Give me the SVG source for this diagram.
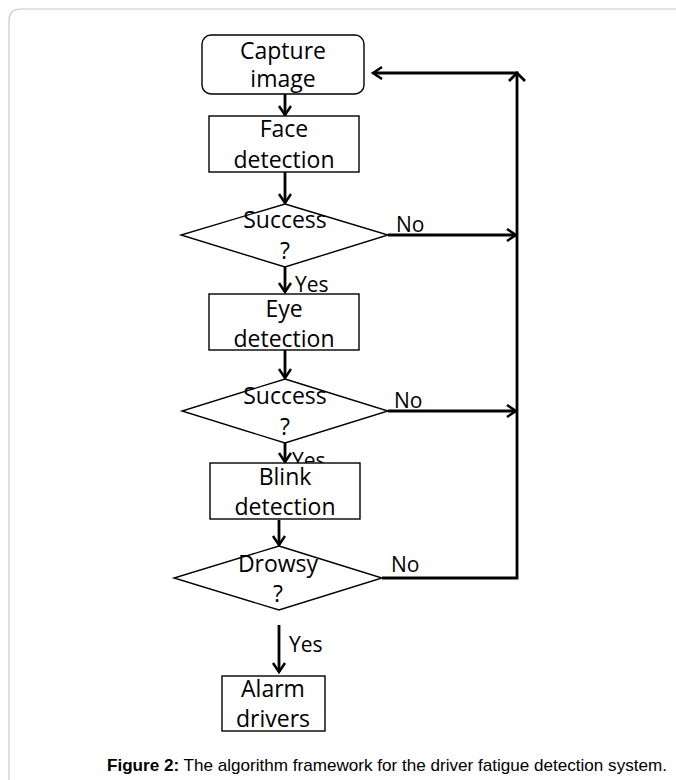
<svg xmlns="http://www.w3.org/2000/svg" width="676" height="780" viewBox="0 0 676 780">
<defs>
<style>
.box{fill:#fff;stroke:#000;stroke-width:1.4}
.t{font-family:"Open Sans","Noto Sans",sans-serif;font-size:23px;fill:#000;text-anchor:middle}
.l{font-family:"Open Sans","Noto Sans",sans-serif;font-size:21px;fill:#000}
.c{stroke:#000;stroke-width:2.8;fill:none}
.cap{font-family:"Liberation Sans",Arial,sans-serif;font-size:17px;fill:#000}
</style>
<marker id="ah" markerUnits="userSpaceOnUse" markerWidth="14" markerHeight="16" refX="10" refY="7" orient="auto">
<path d="M1,1 L10,7 L1,13" fill="none" stroke="#000" stroke-width="2.5"/>
</marker>
</defs>
<rect width="676" height="780" fill="#fff"/>
<path d="M9,800 L9,21 Q9,9 21,9 L700,9" fill="none" stroke="#c8c8c8" stroke-width="1.2"/>

<g id="connectors">
<line class="c" x1="285" y1="94" x2="285" y2="115" marker-end="url(#ah)"/>
<line class="c" x1="285" y1="172" x2="285" y2="203" marker-end="url(#ah)"/>
<line class="c" x1="285" y1="267" x2="285" y2="292" marker-end="url(#ah)"/>
<line class="c" x1="285" y1="350" x2="285" y2="378" marker-end="url(#ah)"/>
<line class="c" x1="285" y1="443" x2="285" y2="462" marker-end="url(#ah)"/>
<line class="c" x1="279" y1="520" x2="279" y2="545" marker-end="url(#ah)"/>
<line class="c" x1="279" y1="625" x2="279" y2="672" marker-end="url(#ah)"/>
<line class="c" x1="388" y1="235" x2="516" y2="235" marker-end="url(#ah)"/>
<line class="c" x1="388" y1="411" x2="516" y2="411" marker-end="url(#ah)"/>
<polyline class="c" points="382,578 517,578 517,73 373,73" marker-end="url(#ah)"/>
<path class="c" d="M509,81 L517,73 L525,81" stroke-width="2.5"/>
<text class="l" x="396" y="232">No</text>
<text class="l" x="394" y="408">No</text>
<text class="l" x="391" y="572">No</text>
<text class="l" x="295" y="292">Yes</text>
<text class="l" x="292" y="468">Yes</text>
<text class="l" x="289" y="652">Yes</text>
</g>

<g id="capture">
<rect class="box" x="202" y="35" width="162" height="59" rx="9"/>
<text class="t" x="283" y="59">Capture</text>
<text class="t" x="283" y="87">image</text>
</g>
<g id="face">
<rect class="box" x="209" y="116" width="150" height="56"/>
<text class="t" x="284" y="137">Face</text>
<text class="t" x="284" y="168">detection</text>
</g>
<g id="success1">
<polygon class="box" points="285,204 388,235 285,267 181,235"/>
<text class="t" x="285" y="228">Success</text>
<text class="t" x="285" y="259">?</text>
</g>
<g id="eye">
<rect class="box" x="209" y="294" width="150" height="56"/>
<text class="t" x="284" y="317">Eye</text>
<text class="t" x="284" y="347">detection</text>
</g>
<g id="success2">
<polygon class="box" points="285,379 388,411 285,443 182,411"/>
<text class="t" x="285" y="404">Success</text>
<text class="t" x="285" y="435">?</text>
</g>
<g id="blink">
<rect class="box" x="210" y="463" width="150" height="56"/>
<text class="t" x="285" y="485">Blink</text>
<text class="t" x="285" y="515">detection</text>
</g>
<g id="drowsy">
<polygon class="box" points="279,546 382,578 279,610 174,578"/>
<text class="t" x="278" y="572">Drowsy</text>
<text class="t" x="278" y="602">?</text>
</g>
<g id="alarm">
<rect class="box" x="222" y="676" width="103" height="55"/>
<text class="t" x="273" y="697">Alarm</text>
<text class="t" x="273" y="727">drivers</text>
</g>

<text class="cap" x="107" y="771" textLength="560" lengthAdjust="spacingAndGlyphs"><tspan font-weight="bold">Figure 2:</tspan> The algorithm framework for the driver fatigue detection system.</text>
</svg>
